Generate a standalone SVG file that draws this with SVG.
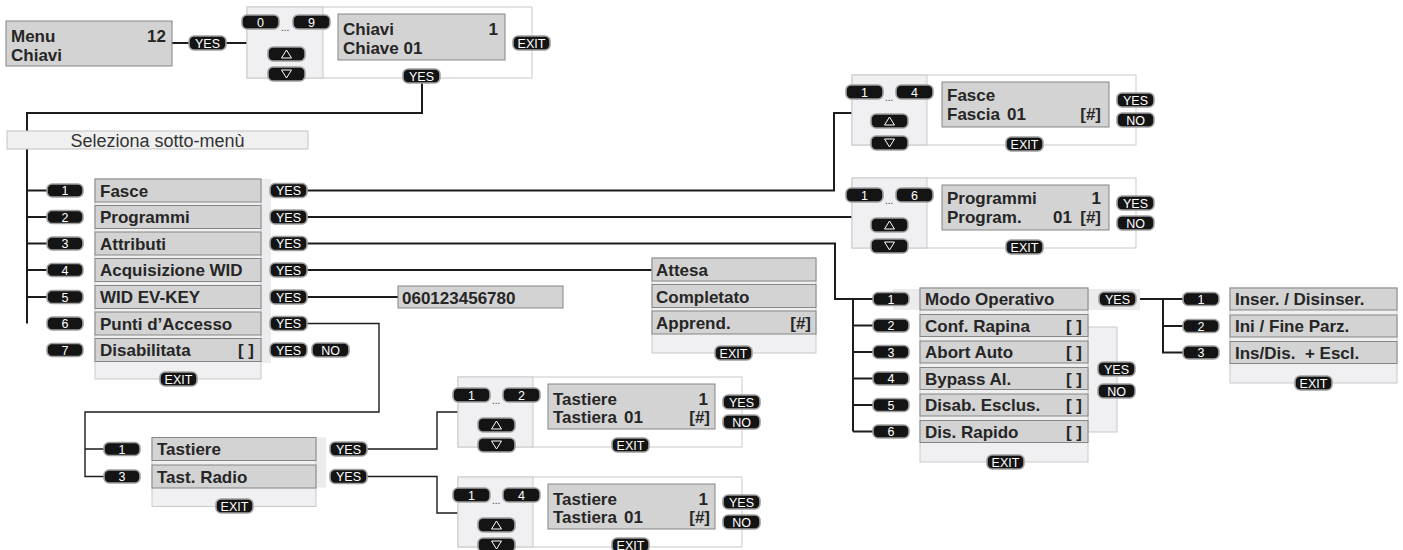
<svg xmlns="http://www.w3.org/2000/svg" width="1403" height="550" viewBox="0 0 1403 550">
<defs>
<style>
.t{font-family:'Liberation Sans',Arial,sans-serif;font-weight:bold;font-size:17px;fill:#262626}
.r{text-anchor:end}
.lcd{fill:#d3d3d3;stroke:#858585;stroke-width:1}
.frame{fill:#ffffff;stroke:#c9c9c9;stroke-width:1}
.side{fill:#f0f0f2;stroke:#c9c9c9;stroke-width:1}
.band{fill:#ececee}
.k rect{fill:#141414;stroke:#a0a0a0;stroke-width:1.6}
.k text{font-family:'Liberation Sans Narrow','Liberation Sans',Arial,sans-serif;font-size:12.5px;fill:#ffffff;text-anchor:middle}
.k polygon{fill:none;stroke:#ffffff;stroke-width:1}
.dots{font-family:'Liberation Sans',Arial,sans-serif;font-size:10px;fill:#333}
.ln{fill:none;stroke:#1c1c1c;stroke-width:2}
.ln2{fill:none;stroke:#1c1c1c;stroke-width:1.4}
.sel{font-family:'Liberation Sans',Arial,sans-serif;font-size:18px;fill:#333;text-anchor:middle}
</style>
<symbol id="yes" overflow="visible"><g class="k"><rect width="37" height="14" rx="5"/><text x="18.5" y="11.5">YES</text></g></symbol>
<symbol id="no" overflow="visible"><g class="k"><rect width="37" height="14" rx="5"/><text x="18.5" y="11.5">NO</text></g></symbol>
<symbol id="exit" overflow="visible"><g class="k"><rect width="37" height="14" rx="5"/><text x="18.5" y="11.5">EXIT</text></g></symbol>
<symbol id="up" overflow="visible"><g class="k"><rect width="37" height="14" rx="5"/><polygon points="18.5,3 13.5,11 23.5,11"/></g></symbol>
<symbol id="down" overflow="visible"><g class="k"><rect width="37" height="14" rx="5"/><polygon points="13.5,3 23.5,3 18.5,11"/></g></symbol>
</defs>
<rect width="1403" height="550" fill="#ffffff"/>

<g id="connectors">
<path class="ln" d="M172,43 H247"/>
<path class="ln" d="M422,83 V113 H27 V323.5"/>
<path class="ln" d="M27,190.5 H47 M27,217 H47 M27,243.5 H47 M27,270 H47 M27,297 H47"/>
<path class="ln" d="M307,190.5 H834 V113 H852"/>
<path class="ln" d="M307,217 H852"/>
<path class="ln" d="M307,243.5 H835 V299 H873"/>
<path class="ln" d="M853,299 V431.5 M853,325.5 H873 M853,352 H873 M853,378.5 H873 M853,405 H873 M853,431.5 H873"/>
<path class="ln" d="M307,270 H652"/>
<path class="ln" d="M307,297 H398"/>
<path class="ln2" d="M307,323.5 H379 V412 H85 V476.5 H104 M85,449 H104"/>
<path class="ln2" d="M367,449 H437 V412 H458"/>
<path class="ln2" d="M367,476.5 H437 V513 H458"/>
<path class="ln" d="M1135,299 H1183 M1163,299 V352.5 H1183 M1163,326 H1183"/>
</g>

<g id="menu">
<rect class="lcd" x="6" y="21" width="166" height="45"/>
<text class="t" x="11" y="42">Menu</text>
<text class="t r" x="166" y="42">12</text>
<text class="t" x="11" y="61">Chiavi</text>
<use href="#yes" x="189" y="36"/>
</g>

<g id="chiavi-panel">
<rect class="frame" x="247" y="7" width="285" height="71"/>
<rect class="side" x="247" y="7" width="76" height="71"/>
<g class="k"><rect x="242" y="15" width="37" height="14" rx="5"/><text x="260.5" y="26.5">0</text></g>
<g class="k"><rect x="293" y="15" width="37" height="14" rx="5"/><text x="311.5" y="26.5">9</text></g>
<text class="dots" x="281" y="31">...</text>
<use href="#up" x="268" y="47"/>
<use href="#down" x="268" y="67"/>
<rect class="lcd" x="338" y="14" width="167" height="46"/>
<text class="t" x="343" y="35">Chiavi</text>
<text class="t r" x="498" y="35">1</text>
<text class="t" x="343" y="54">Chiave 01</text>
<use href="#exit" x="513" y="36"/>
<use href="#yes" x="403" y="69"/>
</g>

<g id="seleziona">
<rect x="7" y="131" width="301" height="18" fill="#f0f0f0" stroke="#c2c2c2"/>
<text class="sel" x="157.5" y="146.5">Seleziona sotto-menù</text>
</g>

<g id="main-menu">
<rect class="band" x="261" y="179" width="10" height="184"/>
<rect class="side" x="95" y="179" width="166" height="200"/>
<rect class="lcd" x="95" y="179" width="166" height="23"/>
<rect class="lcd" x="95" y="205.5" width="166" height="23"/>
<rect class="lcd" x="95" y="232" width="166" height="23"/>
<rect class="lcd" x="95" y="258.5" width="166" height="23"/>
<rect class="lcd" x="95" y="285.5" width="166" height="23"/>
<rect class="lcd" x="95" y="312" width="166" height="23"/>
<rect class="lcd" x="95" y="338.5" width="166" height="23"/>
<text class="t" x="100" y="196.5">Fasce</text>
<text class="t" x="100" y="223">Programmi</text>
<text class="t" x="100" y="249.5">Attributi</text>
<text class="t" x="100" y="276">Acquisizione WID</text>
<text class="t" x="100" y="303">WID EV-KEY</text>
<text class="t" x="100" y="329.5">Punti d’Accesso</text>
<text class="t" x="100" y="356">Disabilitata</text>
<text class="t r" x="254" y="356">[ ]</text>
<g class="k"><rect x="47" y="184" width="36" height="13" rx="5"/><text x="65" y="195">1</text></g>
<g class="k"><rect x="47" y="210.5" width="36" height="13" rx="5"/><text x="65" y="221.5">2</text></g>
<g class="k"><rect x="47" y="237" width="36" height="13" rx="5"/><text x="65" y="248">3</text></g>
<g class="k"><rect x="47" y="263.5" width="36" height="13" rx="5"/><text x="65" y="274.5">4</text></g>
<g class="k"><rect x="47" y="290.5" width="36" height="13" rx="5"/><text x="65" y="301.5">5</text></g>
<g class="k"><rect x="47" y="317" width="36" height="13" rx="5"/><text x="65" y="328">6</text></g>
<g class="k"><rect x="47" y="343.5" width="36" height="13" rx="5"/><text x="65" y="354.5">7</text></g>
<use href="#yes" x="270" y="183.5"/>
<use href="#yes" x="270" y="210"/>
<use href="#yes" x="270" y="236.5"/>
<use href="#yes" x="270" y="263"/>
<use href="#yes" x="270" y="290"/>
<use href="#yes" x="270" y="316.5"/>
<use href="#yes" x="270" y="343"/>
<use href="#no" x="312" y="343"/>
<use href="#exit" x="160" y="372"/>
</g>

<g id="fasce-panel">
<rect class="frame" x="852" y="75" width="284" height="70"/>
<rect class="side" x="852" y="75" width="75" height="70"/>
<g class="k"><rect x="846" y="85" width="37" height="14" rx="5"/><text x="864.5" y="96.5">1</text></g>
<g class="k"><rect x="896" y="85" width="37" height="14" rx="5"/><text x="914.5" y="96.5">4</text></g>
<text class="dots" x="885" y="101">...</text>
<use href="#up" x="871" y="114"/>
<use href="#down" x="871" y="136"/>
<rect class="lcd" x="942" y="82" width="167" height="45"/>
<text class="t" x="947" y="101">Fasce</text>
<text class="t" x="947" y="120">Fascia</text>
<text class="t" x="1007" y="120">01</text>
<text class="t r" x="1101" y="120">[#]</text>
<use href="#yes" x="1117" y="93"/>
<use href="#no" x="1117" y="113"/>
<use href="#exit" x="1006" y="137"/>
</g>

<g id="programmi-panel">
<rect class="frame" x="852" y="178" width="284" height="70"/>
<rect class="side" x="852" y="178" width="75" height="70"/>
<g class="k"><rect x="846" y="188" width="37" height="14" rx="5"/><text x="864.5" y="199.5">1</text></g>
<g class="k"><rect x="896" y="188" width="37" height="14" rx="5"/><text x="914.5" y="199.5">6</text></g>
<text class="dots" x="885" y="204">...</text>
<use href="#up" x="871" y="218"/>
<use href="#down" x="871" y="239"/>
<rect class="lcd" x="942" y="185" width="167" height="45"/>
<text class="t" x="947" y="204">Programmi</text>
<text class="t r" x="1101" y="204">1</text>
<text class="t" x="947" y="223">Program.</text>
<text class="t" x="1053" y="223">01</text>
<text class="t r" x="1101" y="223">[#]</text>
<use href="#yes" x="1117" y="196"/>
<use href="#no" x="1117" y="216"/>
<use href="#exit" x="1006" y="240"/>
</g>

<g id="wid-value">
<rect class="lcd" x="398" y="286" width="165" height="22"/>
<text class="t" x="402" y="303.5">060123456780</text>
</g>

<g id="acquisizione">
<rect class="side" x="652" y="258" width="164" height="95"/>
<rect class="lcd" x="652" y="258" width="164" height="23"/>
<rect class="lcd" x="652" y="284.5" width="164" height="23"/>
<rect class="lcd" x="652" y="311" width="164" height="23"/>
<text class="t" x="656" y="276">Attesa</text>
<text class="t" x="656" y="302.5">Completato</text>
<text class="t" x="656" y="329">Apprend.</text>
<text class="t r" x="811" y="329">[#]</text>
<use href="#exit" x="715" y="346"/>
</g>

<g id="attributi">
<rect class="band" x="893" y="289" width="247" height="21"/>
<rect class="side" x="1088" y="327" width="29" height="105"/>
<rect class="side" x="920" y="288" width="168" height="174"/>
<rect class="lcd" x="920" y="288" width="168" height="22"/>
<rect class="lcd" x="920" y="314.5" width="168" height="22"/>
<rect class="lcd" x="920" y="341" width="168" height="22"/>
<rect class="lcd" x="920" y="367.5" width="168" height="22"/>
<rect class="lcd" x="920" y="394" width="168" height="22"/>
<rect class="lcd" x="920" y="420.5" width="168" height="22"/>
<text class="t" x="925" y="305">Modo Operativo</text>
<text class="t" x="925" y="331.5">Conf. Rapina</text>
<text class="t" x="925" y="358">Abort Auto</text>
<text class="t" x="925" y="384.5">Bypass Al.</text>
<text class="t" x="925" y="411">Disab. Esclus.</text>
<text class="t" x="925" y="437.5">Dis. Rapido</text>
<text class="t r" x="1082" y="331.5">[ ]</text>
<text class="t r" x="1082" y="358">[ ]</text>
<text class="t r" x="1082" y="384.5">[ ]</text>
<text class="t r" x="1082" y="411">[ ]</text>
<text class="t r" x="1082" y="437.5">[ ]</text>
<g class="k"><rect x="873" y="292.5" width="36" height="13" rx="5"/><text x="891" y="303.5">1</text></g>
<g class="k"><rect x="873" y="319" width="36" height="13" rx="5"/><text x="891" y="330">2</text></g>
<g class="k"><rect x="873" y="345.5" width="36" height="13" rx="5"/><text x="891" y="356.5">3</text></g>
<g class="k"><rect x="873" y="372" width="36" height="13" rx="5"/><text x="891" y="383">4</text></g>
<g class="k"><rect x="873" y="398.5" width="36" height="13" rx="5"/><text x="891" y="409.5">5</text></g>
<g class="k"><rect x="873" y="425" width="36" height="13" rx="5"/><text x="891" y="436">6</text></g>
<use href="#yes" x="1099" y="292"/>
<use href="#yes" x="1098" y="362"/>
<use href="#no" x="1098" y="384"/>
<use href="#exit" x="987" y="455"/>
</g>

<g id="modo-operativo">
<rect class="side" x="1230" y="288" width="167" height="95"/>
<rect class="lcd" x="1230" y="288" width="167" height="22"/>
<rect class="lcd" x="1230" y="315" width="167" height="22"/>
<rect class="lcd" x="1230" y="341.5" width="167" height="22"/>
<text class="t" x="1235" y="305">Inser. / Disinser.</text>
<text class="t" x="1235" y="332">Ini / Fine Parz.</text>
<text class="t" x="1235" y="358.5" xml:space="preserve">Ins/Dis.  + Escl.</text>
<g class="k"><rect x="1183" y="292.5" width="36" height="13" rx="5"/><text x="1201" y="303.5">1</text></g>
<g class="k"><rect x="1183" y="319.5" width="36" height="13" rx="5"/><text x="1201" y="330.5">2</text></g>
<g class="k"><rect x="1183" y="346" width="36" height="13" rx="5"/><text x="1201" y="357">3</text></g>
<use href="#exit" x="1295" y="376"/>
</g>

<g id="punti-accesso">
<rect class="band" x="316" y="437.5" width="10" height="50"/>
<rect class="side" x="152" y="437.5" width="164" height="69"/>
<rect class="lcd" x="152" y="437.5" width="164" height="23"/>
<rect class="lcd" x="152" y="465" width="164" height="23"/>
<text class="t" x="157" y="455">Tastiere</text>
<text class="t" x="157" y="482.5">Tast. Radio</text>
<g class="k"><rect x="104" y="442.5" width="36" height="13" rx="5"/><text x="122" y="453.5">1</text></g>
<g class="k"><rect x="104" y="470" width="36" height="13" rx="5"/><text x="122" y="481">3</text></g>
<use href="#yes" x="330" y="442"/>
<use href="#yes" x="330" y="469.5"/>
<use href="#exit" x="216" y="499"/>
</g>

<g id="tastiere-panel">
<rect class="frame" x="458" y="377" width="284" height="70"/>
<rect class="side" x="458" y="377" width="75" height="70"/>
<g class="k"><rect x="453" y="388" width="37" height="14" rx="5"/><text x="471.5" y="399.5">1</text></g>
<g class="k"><rect x="503" y="388" width="37" height="14" rx="5"/><text x="521.5" y="399.5">2</text></g>
<text class="dots" x="492" y="404">...</text>
<use href="#up" x="478" y="418"/>
<use href="#down" x="478" y="438"/>
<rect class="lcd" x="548" y="384" width="167" height="45"/>
<text class="t" x="553" y="405">Tastiere</text>
<text class="t r" x="708" y="405">1</text>
<text class="t" x="553" y="423">Tastiera</text>
<text class="t" x="624" y="423">01</text>
<text class="t r" x="710" y="423">[#]</text>
<use href="#yes" x="723" y="395"/>
<use href="#no" x="723" y="415"/>
<use href="#exit" x="612" y="438"/>
</g>

<g id="tast-radio-panel">
<rect class="frame" x="458" y="477" width="284" height="70"/>
<rect class="side" x="458" y="477" width="75" height="70"/>
<g class="k"><rect x="453" y="488" width="37" height="14" rx="5"/><text x="471.5" y="499.5">1</text></g>
<g class="k"><rect x="503" y="488" width="37" height="14" rx="5"/><text x="521.5" y="499.5">4</text></g>
<text class="dots" x="492" y="504">...</text>
<use href="#up" x="478" y="518"/>
<use href="#down" x="478" y="538"/>
<rect class="lcd" x="548" y="484" width="167" height="45"/>
<text class="t" x="553" y="505">Tastiere</text>
<text class="t r" x="708" y="505">1</text>
<text class="t" x="553" y="523">Tastiera</text>
<text class="t" x="624" y="523">01</text>
<text class="t r" x="710" y="523">[#]</text>
<use href="#yes" x="723" y="495"/>
<use href="#no" x="723" y="515"/>
<use href="#exit" x="612" y="538"/>
</g>
</svg>
